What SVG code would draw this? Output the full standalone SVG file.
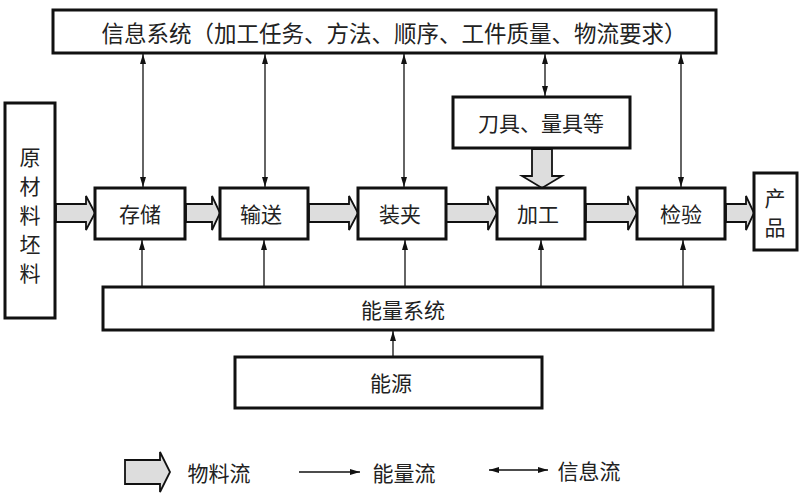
<svg xmlns="http://www.w3.org/2000/svg" width="804" height="501" viewBox="0 0 804 501">
<defs>
<style>
.box{fill:#fff;stroke:#111;stroke-width:3}
.t{font-family:"Noto Sans CJK SC","Noto Sans CJK JP",sans-serif;font-size:21px;fill:#222;text-anchor:middle;dominant-baseline:central}
.ln{stroke:#111;stroke-width:1.3;fill:none}
.fat{fill:#ddd;stroke:#111;stroke-width:1.8}
</style>
<marker id="ah" viewBox="0 0 10 10" refX="10" refY="5" markerWidth="10" markerHeight="10" markerUnits="userSpaceOnUse" orient="auto-start-reverse"><path d="M0,2 L10,5 L0,8 Z" fill="#111"/></marker>
</defs>
<rect width="804" height="501" fill="#fff"/>
<g id="connectors">
<g class="ln">
<line x1="143" y1="54" x2="143" y2="187" marker-start="url(#ah)" marker-end="url(#ah)"/>
<line x1="265" y1="54" x2="265" y2="187" marker-start="url(#ah)" marker-end="url(#ah)"/>
<line x1="404" y1="54" x2="404" y2="187" marker-start="url(#ah)" marker-end="url(#ah)"/>
<line x1="545" y1="54" x2="545" y2="96" marker-start="url(#ah)" marker-end="url(#ah)"/>
<line x1="681" y1="54" x2="681" y2="187" marker-start="url(#ah)" marker-end="url(#ah)"/>
<line x1="142" y1="287" x2="142" y2="240" marker-end="url(#ah)"/>
<line x1="264" y1="287" x2="264" y2="240" marker-end="url(#ah)"/>
<line x1="405" y1="287" x2="405" y2="240" marker-end="url(#ah)"/>
<line x1="541" y1="287" x2="541" y2="240" marker-end="url(#ah)"/>
<line x1="683" y1="287" x2="683" y2="240" marker-end="url(#ah)"/>
<line x1="393" y1="357" x2="393" y2="331" marker-end="url(#ah)"/>
</g>
<g class="fat">
<path d="M56,204 H86 V196 L95,213 L86,230 V222 H56 Z"/>
<path d="M186,204 H212 V196 L220,213 L212,230 V222 H186 Z"/>
<path d="M309,204 H349 V196 L358,213 L349,230 V222 H309 Z"/>
<path d="M446,204 H488 V196 L497,213 L488,230 V222 H446 Z"/>
<path d="M586,204 H628 V196 L637,213 L628,230 V222 H586 Z"/>
<path d="M726,204 H746 V196 L754,213 L746,230 V222 H726 Z"/>
<path d="M532,149 H552 V176 H562 L542,188 L522,176 H532 Z"/>
</g>
</g>
<g id="info"><rect class="box" x="53" y="10" width="663" height="43"/><text class="t" x="394" y="32" style="font-size:22.5px">信息系统（加工任务、方法、顺序、工件质量、物流要求）</text></g>
<g id="raw"><rect class="box" x="5" y="103" width="50" height="215"/><text class="t" x="30" y="156">原</text><text class="t" x="30" y="185">材</text><text class="t" x="30" y="214">料</text><text class="t" x="30" y="243">坯</text><text class="t" x="30" y="272">料</text></g>
<g id="store"><rect class="box" x="95" y="188" width="90" height="51"/><text class="t" x="140" y="213">存储</text></g>
<g id="convey"><rect class="box" x="220" y="188" width="88" height="51"/><text class="t" x="261" y="213">输送</text></g>
<g id="clamp"><rect class="box" x="358" y="188" width="88" height="51"/><text class="t" x="400" y="213">装夹</text></g>
<g id="machine"><rect class="box" x="497" y="188" width="88" height="51"/><text class="t" x="538" y="213">加工</text></g>
<g id="inspect"><rect class="box" x="637" y="188" width="88" height="51"/><text class="t" x="681" y="213">检验</text></g>
<g id="product"><rect class="box" x="754" y="173" width="43" height="77"/><text class="t" x="775" y="197">产</text><text class="t" x="775" y="226">品</text></g>
<g id="tools"><rect class="box" x="453" y="97" width="177" height="51"/><text class="t" x="541" y="122">刀具、量具等</text></g>
<g id="energy"><rect class="box" x="103" y="287" width="610" height="43"/><text class="t" x="403" y="309">能量系统</text></g>
<g id="source"><rect class="box" x="235" y="357" width="307" height="51"/><text class="t" x="391" y="382">能源</text></g>
<g id="legend">
<path class="fat" d="M125,460 H160 V452 L170,472 L160,492 V484 H125 Z"/>
<text class="t" x="219" y="472">物料流</text>
<line class="ln" x1="299" y1="472" x2="360" y2="472" marker-end="url(#ah)"/>
<text class="t" x="404" y="472">能量流</text>
<line class="ln" x1="489" y1="470" x2="548" y2="470" marker-start="url(#ah)" marker-end="url(#ah)"/>
<text class="t" x="589" y="470">信息流</text>
</g>
</svg>
